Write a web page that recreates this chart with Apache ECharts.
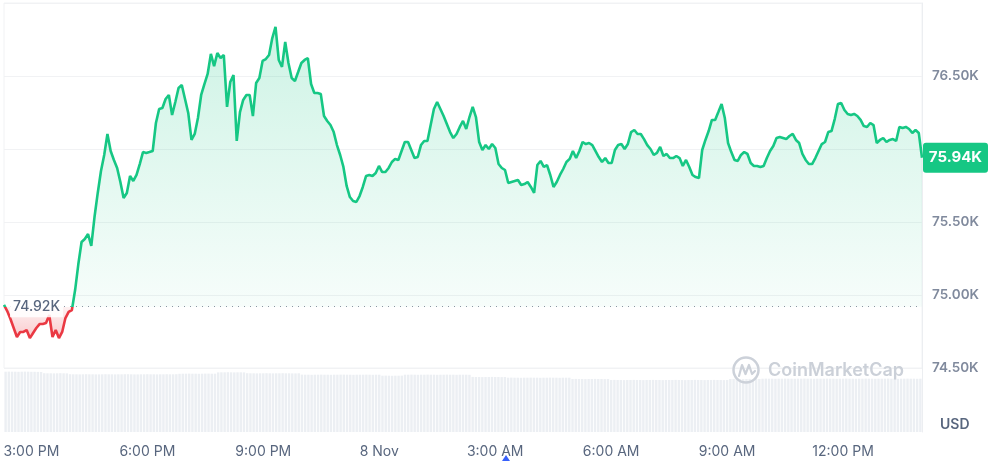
<!DOCTYPE html>
<html><head><meta charset="utf-8">
<script src="https://cdn.jsdelivr.net/npm/echarts@6/dist/echarts.min.js"></script>
<style>html,body{margin:0;padding:0;background:#fff}#c{width:990px;height:461px}</style>
</head><body><div id="c"></div>
<script>
// ---- data (5-minute samples) ----
const baseValue = 74920;       // 24h open reference price
const prices = [
74932,74890,74836,74774,74712,74747,74747,74760,74705,74740,
74774,74801,74801,74808,74863,74712,74760,74705,74747,74842,
74884,74897,75034,75212,75363,75384,75418,75336,75534,75699,
75849,75959,76103,75986,75925,75870,75774,75664,75699,75815,
75781,75822,75897,75979,75973,75979,75986,76178,76274,76281,
76342,76370,76233,76322,76418,76438,76342,76247,76062,76103,
76212,76370,76445,76514,76651,76568,76657,76623,76644,76288,
76459,76507,76055,76253,76336,76370,76370,76226,76452,76486,
76603,76616,76644,76760,76836,76610,76562,76733,76589,76486,
76466,76527,76589,76610,76623,76445,76384,76384,76377,76226,
76192,76164,76116,76027,75959,75877,75747,75671,75644,75637,
75678,75740,75815,75822,75815,75836,75884,75842,75842,75870,
75911,75932,75925,75986,76048,76048,75993,75938,75945,76027,
76055,76055,76164,76274,76322,76274,76226,76171,76116,76075,
76103,76151,76192,76137,76219,76288,76219,76048,75993,76027,
76000,76034,76007,75897,75870,75856,75767,75774,75781,75788,
75753,75760,75774,75740,75699,75890,75918,75877,75890,75822,
75740,75774,75822,75863,75911,75932,75986,75938,75986,76048,
76034,76041,76027,75986,75945,75911,75938,75904,75904,75993,
76027,76034,76000,76034,76116,76130,76103,76103,76068,76027,
76000,75959,75973,76014,75952,75966,75938,75938,75952,75938,
75884,75925,75877,75822,75808,75801,75993,76062,76123,76199,
76199,76253,76308,76212,76041,75979,75925,75918,75959,75979,
75966,75904,75884,75884,75877,75884,75938,75986,76020,76075,
76082,76075,76068,76089,76103,76062,76041,75966,75925,75897,
75897,75938,75986,76034,76048,76116,76123,76205,76308,76315,
76267,76240,76233,76240,76226,76199,76157,76151,76178,76164,
76041,76062,76075,76048,76062,76068,76055,76151,76144,76151,
76137,76110,76130,76110,75940
];
const volumes = [
60.3,60.4,60.3,60.3,60.2,60.3,60.4,60.3,60.2,60.2,60.1,60.0,
58.8,58.7,58.7,58.6,58.7,58.8,58.7,58.6,
57.8,57.7,57.7,57.6,57.7,57.8,57.7,57.7,57.6,57.6,57.7,57.8,57.7,57.7,57.6,57.7,57.7,
57.8,57.8,57.7,57.6,57.6,57.7,57.7,57.8,57.7,57.7,57.6,57.7,57.7,57.8,57.7,57.7,57.8,
58.2,58.3,58.3,58.4,58.3,58.3,58.2,58.3,58.4,58.4,58.3,58.3,
59.6,59.7,59.7,59.8,59.7,59.6,59.7,59.7,59.6,
58.8,58.7,58.7,58.6,58.7,58.7,58.8,58.7,58.6,58.7,58.7,58.8,58.7,58.7,58.6,58.6,58.7,
57.4,57.3,57.3,57.2,57.3,57.3,57.4,57.3,57.3,57.2,57.3,57.3,57.4,57.4,57.3,57.3,57.2,57.3,57.3,57.3,57.4,57.3,57.2,57.3,57.3,
56.3,56.4,56.3,56.2,56.3,56.3,56.4,
57.3,57.3,57.4,57.3,57.2,57.3,57.3,57.4,57.3,57.3,57.2,57.3,57.3,57.4,57.3,57.3,57.2,57.3,57.3,57.3,57.2,
55.1,55.0,55.0,54.9,55.0,55.0,55.1,55.0,55.0,54.9,55.0,
54.3,54.4,54.3,54.3,54.2,54.3,54.3,54.4,54.3,54.3,54.2,54.3,54.3,54.4,54.3,54.3,54.2,54.3,54.3,54.3,
53.0,53.1,53.0,53.0,52.9,53.0,53.0,53.1,53.0,53.0,52.9,53.0,
52.0,52.1,52.0,52.0,51.9,52.0,52.0,52.1,52.0,52.0,51.9,52.0,52.0,52.1,52.0,52.0,51.9,52.0,52.0,52.0,
52.1,52.0,52.0,51.9,52.0,52.0,52.1,52.0,52.0,51.9,52.0,52.0,52.1,52.0,52.0,51.9,52.0,
53.0,53.1,53.0,53.0,52.9,53.0,53.1,53.0,53.0,53.0,
53.3,53.4,53.3,53.3,53.2,53.3,53.3,53.4,53.3,53.3,53.2,53.3,53.3,53.4,53.3,53.3,53.2,53.3,53.3,53.3,
53.4,53.3,53.3,53.2,53.3,53.3,53.4,53.3,53.3,53.2,53.3,53.3,53.4,53.3,53.3,53.2,53.3,53.3,53.3,53.4,
53.3,53.3,53.2,53.3,53.3,53.4,53.3,53.3,53.2,53.3
];
const yTicks = [74500, 75000, 75500, 76000, 76500, 77000];
const startTime = [2024, 10, 7, 14, 20]; // 7 Nov 14:20 local
const stepMinutes = 5;
const times = [];
for (let i = 0; i < prices.length; i++) {
  const d = new Date(startTime[0], startTime[1], startTime[2], startTime[3], startTime[4] + i * stepMinutes);
  times.push(String(d.getTime()));
}
const months = ['Jan','Feb','Mar','Apr','May','Jun','Jul','Aug','Sep','Oct','Nov','Dec'];
function fmtTime(t) {
  const d = new Date(+t);
  const h = d.getHours(), m = d.getMinutes();
  if (h === 0 && m === 0) return d.getDate() + ' ' + months[d.getMonth()];
  const hh = h % 12 === 0 ? 12 : h % 12;
  return hh + ':' + String(m).padStart(2, '0') + (h < 12 ? ' AM' : ' PM');
}
function fmtK(v) { return (v / 1000).toFixed(2) + 'K'; }

const GREEN = '#16c784', RED = '#ea3943';
const FONT = 'Inter, "Noto Sans", sans-serif';
const chart = echarts.init(document.getElementById('c'), null, {renderer: 'canvas'});
const last = prices.length - 1;

chart.setOption({
  animation: false,
  backgroundColor: '#fff',
  grid: [
    {left: 4, right: 68, top: 3, height: 365, show: true, borderColor: '#f1f2f4', borderWidth: 1},
    {left: 4, right: 68, top: 362, height: 70}
  ],
  xAxis: [
    {type: 'category', gridIndex: 0, data: times, boundaryGap: false,
     axisLine: {show: false}, axisTick: {show: false}, axisLabel: {show: false}, splitLine: {show: false}},
    {type: 'category', gridIndex: 1, data: times, boundaryGap: true,
     axisLine: {show: false}, axisTick: {show: false}, splitLine: {show: false},
     axisLabel: {
       color: '#58667e', fontSize: 14, fontFamily: FONT, margin: 13,
       interval: function (idx, val) { const d = new Date(+val); return d.getMinutes() === 0 && d.getHours() % 3 === 0; },
       formatter: function (val) { return fmtTime(val); }
     }}
  ],
  yAxis: [
    {type: 'value', gridIndex: 0, position: 'right', min: yTicks[0], max: yTicks[yTicks.length - 1], interval: 500,
     axisLine: {show: true, lineStyle: {color: '#eceef1'}}, axisTick: {show: false},
     splitLine: {lineStyle: {color: '#f1f2f4', width: 1}},
     axisLabel: {color: '#808a9d', fontSize: 13.5, fontWeight: 600, fontFamily: FONT, margin: 10,
       formatter: function (v) { return (v === 77000 || v === 76000) ? '' : fmtK(v); }}},
    {type: 'value', gridIndex: 1, position: 'right', min: 0, max: 70,
     axisLine: {show: true, lineStyle: {color: '#eceef1'}}, axisTick: {show: false},
     splitLine: {show: false}, axisLabel: {show: false}}
  ],
  series: [
    {
      id: 'price', type: 'line', xAxisIndex: 0, yAxisIndex: 0, data: prices, symbol: 'none', z: 5,
      lineStyle: {width: 2.6, color: GREEN},
      areaStyle: {origin: baseValue, color: 'rgba(22,199,132,0.15)'},
      markLine: {
        silent: true, symbol: ['none', 'none'], animation: false,
        lineStyle: {type: [1, 5], color: '#8e95a3', width: 1},
        label: {show: false},
        data: [{yAxis: baseValue}]
      }
    },
    {
      type: 'bar', xAxisIndex: 1, yAxisIndex: 1, data: volumes, barCategoryGap: '25%',
      itemStyle: {color: '#eceff3'}, silent: true, z: 1
    }
  ]
});

// pixel positions from the axis scales, used for the colour split and labels
const baseY = chart.convertToPixel({yAxisIndex: 0}, baseValue);
const topY = chart.convertToPixel({yAxisIndex: 0}, Math.max.apply(null, prices));
const botY = chart.convertToPixel({yAxisIndex: 0}, Math.min.apply(null, prices));
const H = 461;
const lastX = chart.convertToPixel({xAxisIndex: 0}, last);
const lastY = chart.convertToPixel({yAxisIndex: 0}, prices[last]);
const firstX = chart.convertToPixel({xAxisIndex: 0}, 0);
const split = (baseY - topY) / (botY - topY);

chart.setOption({
  series: [{
    id: 'price',
    lineStyle: {width: 2.6, color: {type: 'linear', x: 0, y: 0, x2: 0, y2: H, global: true, colorStops: [
      {offset: 0, color: GREEN}, {offset: baseY / H, color: GREEN},
      {offset: baseY / H + 0.0001, color: RED}, {offset: 1, color: RED}]}},
    areaStyle: {origin: baseValue, color: {type: 'linear', x: 0, y: topY, x2: 0, y2: botY, global: true, colorStops: [
      {offset: 0, color: 'rgba(22,199,132,0.30)'},
      {offset: split, color: 'rgba(22,199,132,0.05)'},
      {offset: split + 0.0001, color: 'rgba(234,57,67,0.10)'},
      {offset: 1, color: 'rgba(234,57,67,0.38)'}]}}
  }],
  graphic: [
    {type: 'text', x: firstX + 6, y: baseY, z: 20, style: {text: fmtK(baseValue), fill: '#58667e', font: '500 14px ' + FONT,
      verticalAlign: 'middle', backgroundColor: 'rgba(255,255,255,0.85)', padding: [4, 3, 3, 3]}},
    {type: 'rect', z: 20, shape: {x: lastX + 1, y: lastY - 15, width: 65, height: 30, r: 3}, style: {fill: GREEN}},
    {type: 'text', x: lastX + 33.5, y: lastY, z: 21, style: {text: fmtK(prices[last]), fill: '#fff', font: '700 15px ' + FONT,
      align: 'center', verticalAlign: 'middle'}},
    {type: 'text', x: 940, y: 418, z: 10, style: {text: 'USD', fill: '#58667e', font: '600 14px ' + FONT}},
    {type: 'circle', z: 10, shape: {cx: 746, cy: 370, r: 12.5}, style: {fill: 'none', stroke: '#ccd1d9', lineWidth: 2.5}},
    {type: 'polyline', z: 10, shape: {points: [[739, 376], [742, 365], [745.5, 374], [749, 365], [752, 374], [755, 371]]},
     style: {fill: 'none', stroke: '#ccd1d9', lineWidth: 2.2, lineJoin: 'round', lineCap: 'round'}},
    {type: 'text', x: 768, y: 371, z: 10, style: {text: 'CoinMarketCap', fill: '#cbd0d8', font: '600 18px ' + FONT, verticalAlign: 'middle'}},
    {type: 'polygon', z: 10, shape: {points: [[502, 461], [506, 455], [510, 461]]}, style: {fill: '#3861fb'}}
  ]
});
</script></body></html>
